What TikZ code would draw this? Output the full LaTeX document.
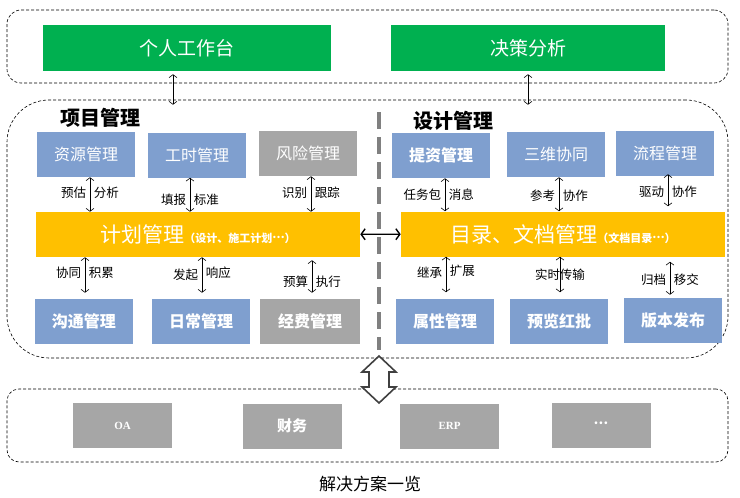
\documentclass[tikz,border=0pt]{standalone}
\usepackage{fontspec}
\setmainfont{Noto Sans CJK SC}
\newfontfamily\latserif{Liberation Serif}
\usetikzlibrary{positioning, arrows.meta}

\definecolor{deskgreen}{RGB}{0,176,80}
\definecolor{boxblue}{RGB}{127,159,207}
\definecolor{boxgray}{RGB}{166,166,166}
\definecolor{planyellow}{RGB}{255,192,0}
\definecolor{divgray}{RGB}{128,128,128}
\definecolor{arrowgray}{RGB}{64,64,64}

\begin{document}
\begin{tikzpicture}[x = 1pt, y = -1pt, line width = 0.6pt,
		frame/.style={rectangle, draw, densely dashed, inner sep = 0pt},
		portal/.style={rectangle, fill = deskgreen, text = white, inner sep = 0pt, minimum height = 46pt, font = \fontsize{19}{19}\selectfont},
		title/.style={inner sep = 0pt, font = \fontsize{20}{20}\selectfont\bfseries},
		module/.style={rectangle, fill = boxblue, text = white, inner sep = 0pt, minimum width = 98pt, minimum height = 45pt, font = \fontsize{16}{16}\selectfont},
		greymodule/.style={module, fill = boxgray},
		bar/.style={rectangle, fill = planyellow, text = white, inner sep = 0pt, minimum width = 324pt, minimum height = 45pt, font = \fontsize{21}{21}\selectfont},
		system/.style={rectangle, fill = boxgray, text = white, inner sep = 0pt, minimum width = 99pt, minimum height = 45pt, font = \fontsize{15}{15}\selectfont\bfseries},
		tag/.style={inner sep = 3.5pt, font = \fontsize{12.5}{13}\selectfont},
		link/.style={arrows = {Straight Barb[length = 3pt, width = 8pt]-Straight Barb[length = 3pt, width = 8pt]}},
		wide/.style={line width = 1.4pt, arrows = {Straight Barb[length = 4pt, width = 11pt]-Straight Barb[length = 4pt, width = 11pt]}},
		divider/.style={draw = divgray, line width = 3.5pt, dash pattern = on 17pt off 8pt},
		hollow/.style={draw = arrowgray, fill = white, line width = 1.6pt, line join = miter}
	]
	
	\useasboundingbox (0, 0) rectangle (740, 498);
	
	% dashed frames
	\node[frame, minimum width = 721pt, minimum height = 73pt, rounded corners = 14pt] (upper) at (367.5, 46.5) {};
	\node[frame, minimum width = 721pt, minimum height = 258pt, rounded corners = 42pt] (middle) at (367.5, 229) {};
	\node[frame, minimum width = 721pt, minimum height = 73pt, rounded corners = 12pt] (lower) at (367.5, 425.5) {};
	
	\draw[divider] (379, 112) coordinate (divtop) -- (379, 350) coordinate (divbot);
	
	% top level
	\node[portal, minimum width = 288pt] (desk) at (187, 48) {个人工作台};
	\node[portal, minimum width = 274pt] (decision) at (528, 48) {决策分析};
	
	\node[title, anchor = west] (pmtitle) at (60, 118) {项目管理};
	\node[title, anchor = west] (dmtitle) at (413, 121) {设计管理};
	
	% project management
	\node[module] (resource) at (86, 154.5) {资源管理};
	\node[module] (hours) at (197, 155) {工时管理};
	\node[greymodule] (risk) at (308, 153.5) {风险管理};
	
	\node[bar] (plan) at (198, 234.5) {计划管理{\fontsize{11}{11}\selectfont\bfseries（设计、施工计划\raisebox{.35em}{…}）}};
	
	\node[module, font = \fontsize{16}{16}\selectfont\bfseries] (contact) at (84, 321.5) {沟通管理};
	\node[module, font = \fontsize{16}{16}\selectfont\bfseries] (daily) at (201, 321.5) {日常管理};
	\node[greymodule, minimum width = 100pt, font = \fontsize{16}{16}\selectfont\bfseries] (expense) at (310, 321.5) {经费管理};
	
	% design management
	\node[module, font = \fontsize{16}{16}\selectfont\bfseries] (supply) at (441, 155.5) {提资管理};
	\node[module] (coop) at (556, 154.5) {三维协同};
	\node[module] (flow) at (665, 153.5) {流程管理};
	
	\node[bar] (doc) at (563, 234) {目录、文档管理{\fontsize{11}{11}\selectfont\bfseries（文档目录\raisebox{.35em}{…}）}};
	
	\node[module, font = \fontsize{16}{16}\selectfont\bfseries] (attr) at (445, 321) {属性管理};
	\node[module, font = \fontsize{16}{16}\selectfont\bfseries] (review) at (559, 321) {预览红批};
	\node[module, font = \fontsize{16}{16}\selectfont\bfseries] (release) at (673, 320.5) {版本发布};
	
	% external systems
	\node[system, font = \latserif\fontsize{11}{11}\selectfont\bfseries] (oa) at (122.5, 425.5) {OA};
	\node[system] (finance) at (292, 426) {财务};
	\node[system, font = \latserif\fontsize{11}{11}\selectfont\bfseries] (erp) at (449.5, 426) {ERP};
	\node[system, font = \fontsize{13}{13}\selectfont\bfseries] (more) at (601, 425) {\raisebox{.3em}{…}};
	
	\node (caption) at (370, 484) {\fontsize{17}{17}\selectfont 解决方案一览};
	
	% connectors
	\draw[link, shorten <= 3pt] ([xshift = -14pt]desk.south) -- ([xshift = -14pt, yshift = -5pt]desk.south |- middle.north);
	\draw[link, shorten <= 3pt] (decision.south) -- ([yshift = -5pt]decision.south |- middle.north);
	
	\draw[link] ([xshift = 4pt]resource.south) -- ([xshift = 4pt]resource.south |- plan.north)
		node[tag, pos = .45, left] (resl) {预估} node[tag, pos = .45, right] (resr) {分析};
	\draw[link] ([xshift = -7pt]hours.south) -- ([xshift = -7pt]hours.south |- plan.north)
		node[tag, pos = .66, left] (hrsl) {填报} node[tag, pos = .66, right] (hrsr) {标准};
	\draw[link] ([xshift = 3pt]risk.south) -- ([xshift = 3pt]risk.south |- plan.north)
		node[tag, pos = .47, left] (riskl) {识别} node[tag, pos = .47, right] (riskr) {跟踪};
	
	\draw[link] ([xshift = 1pt]plan.south -| contact) -- ([xshift = 1pt, yshift = 6pt]contact.north)
		node[tag, pos = .45, left] (conl) {协同} node[tag, pos = .45, right] (conr) {积累};
	\draw[link] ([xshift = 1pt]plan.south -| daily) -- ([xshift = 1pt, yshift = 6pt]daily.north)
		node[tag, pos = .5, left] (dayl) {发起} node[tag, pos = .45, right] (dayr) {响应};
	\draw[link] ([xshift = 2pt, yshift = -3pt]plan.south -| expense) -- ([xshift = 2pt, yshift = 6pt]expense.north)
		node[tag, pos = .65, left] (expl) {预算} node[tag, pos = .65, right] (expr) {执行};
	
	\draw[link] ([xshift = 4pt]supply.south) -- ([xshift = 4pt]supply.south |- doc.north)
		node[tag, pos = .5, left] (supl) {任务包} node[tag, pos = .5, right] (supr) {消息};
	\draw[link] ([xshift = 3pt]coop.south) -- ([xshift = 3pt]coop.south |- doc.north)
		node[tag, pos = .55, left] (coopl) {参考} node[tag, pos = .55, right] (coopr) {协作};
	\draw[link, shorten <= -2pt, shorten >= 5pt] ([xshift = 3pt]flow.south) -- ([xshift = 3pt]flow.south |- doc.north)
		node[tag, pos = .45, left] (flowl) {驱动} node[tag, pos = .45, right] (flowr) {协作};
	
	\draw[link] ([xshift = 1pt]doc.south -| attr) -- ([xshift = 1pt, yshift = 6pt]attr.north)
		node[tag, pos = .45, left] (attrl) {继承} node[tag, pos = .4, right] (attrr) {扩展};
	\draw[link] ([xshift = 1pt]doc.south -| review) -- ([xshift = 1pt, yshift = 6pt]review.north)
		node[tag, pos = .5, left, xshift = 4pt] (revl) {实时} node[tag, pos = .5, right, xshift = -4pt] (revr) {传输};
	\draw[link] ([xshift = -3pt, yshift = -5pt]doc.south -| release) -- ([xshift = -3pt, yshift = 3pt]release.north)
		node[tag, pos = .55, left] (rell) {归档} node[tag, pos = .55, right] (relr) {移交};
	
	\draw[wide] (plan) -- (doc);
	
	% big double arrow between layers
	\draw[hollow] (379, 356) -- (396, 372) -- (389, 372) -- (389, 387) -- (396, 387) -- (379, 403)
		-- (362, 387) -- (369, 387) -- (369, 372) -- (362, 372) -- cycle;
	
\end{tikzpicture}
\end{document}
